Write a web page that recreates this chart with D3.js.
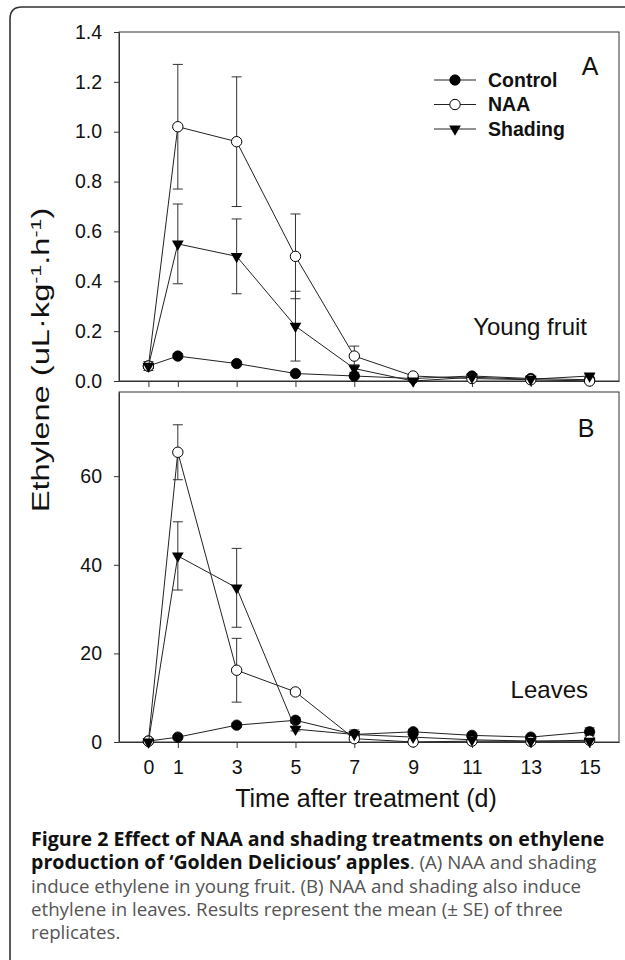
<!DOCTYPE html>
<html>
<head>
<meta charset="utf-8">
<script src="https://cdn.jsdelivr.net/npm/d3@7"></script>
<style>
  html, body { margin: 0; padding: 0; background: #fff; }
  svg { display: block; }
</style>
</head>
<body>
<svg id="fig" width="625" height="960"></svg>
<script>
// Sampling days after treatment
const days = [0, 1, 3, 5, 7, 9, 11, 13, 15];
const xTickValues = [0, 1, 3, 5, 7, 9, 11, 13, 15];

// Panel A: young fruit ethylene (uL·kg-1·h-1), mean and SE
const fruitControl   = [0.06, 0.10, 0.07, 0.03, 0.02, 0.01, 0.02, 0.01, 0.005];
const fruitControlSE = [0.018, 0.01, 0.008, 0.005, 0.005, 0, 0.005, 0.004, 0];
const fruitNAA       = [0.06, 1.02, 0.96, 0.50, 0.10, 0.02, 0.01, 0.005, 0.0];
const fruitNAASE     = [0.01, 0.25, 0.26, 0.17, 0.04, 0.005, 0.005, 0, 0.005];
const fruitShading   = [0.06, 0.55, 0.50, 0.22, 0.05, 0.0, 0.015, 0.007, 0.02];
const fruitShadingSE = [0.01, 0.16, 0.15, 0.14, 0.015, 0, 0.005, 0, 0.005];
const fruitTicks = [0, 0.2, 0.4, 0.6, 0.8, 1.0, 1.2, 1.4];

// Panel B: leaf ethylene, mean and SE
const leafControl   = [0.2, 1.1, 3.8, 4.9, 1.7, 2.3, 1.5, 1.1, 2.3];
const leafControlSE = [0.2, 0.3, 0.5, 0.6, 0.5, 0.5, 0.3, 0.3, 0.9];
const leafNAA       = [0.2, 65.4, 16.2, 11.3, 0.75, 0.0, 0.2, 0.15, 0.4];
const leafNAASE     = [0.1, 6.2, 7.2, 0.6, 0.3, 0, 0.1, 0.1, 0.2];
const leafShading   = [0.0, 42.0, 34.8, 2.9, 1.7, 1.1, 0.5, 0.2, 0.2];
const leafShadingSE = [0, 7.7, 8.9, 0.4, 1.0, 0.3, 0.2, 0.1, 0.2];
const leafTicks = [0, 20, 40, 60];

const seriesNames = ["Control", "NAA", "Shading"];

const captionLines = [
  [["b", "Figure 2 Effect of NAA and shading treatments on ethylene"]],
  [["b", "production of \u2018Golden Delicious\u2019 apples"], ["r", ". (A) NAA and shading"]],
  [["r", "induce ethylene in young fruit. (B) NAA and shading also induce"]],
  [["r", "ethylene in leaves. Results represent the mean (\u00b1 SE) of three"]],
  [["r", "replicates."]]
];

const svg = d3.select("#fig");
const AXIS_FONT = "'Liberation Sans', Arial, sans-serif";
const INK = "#222";

// Outer figure border with rounded top-left corner
svg.append("path")
  .attr("d", "M10,962 L10,19 Q10,7 22,7 L627,7")
  .attr("fill", "none")
  .attr("stroke", "#333")
  .attr("stroke-width", 1.6);

const x = d3.scaleLinear().domain([-1, 16]).range([119, 619]);
const yFruit = d3.scaleLinear().domain([0, 1.4]).range([381, 32]);
const yLeaf = d3.scaleLinear().domain([0, 79]).range([742, 392]);

function markerFor(sel, kind) {
  if (kind === "Control") {
    sel.append("circle").attr("r", 5.2).attr("fill", "#000").attr("stroke", "#000").attr("stroke-width", 0.8);
  } else if (kind === "NAA") {
    sel.append("circle").attr("r", 5.2).attr("fill", "#fff").attr("stroke", "#000").attr("stroke-width", 1);
  } else {
    sel.append("path")
      .attr("d", d3.symbol(d3.symbolTriangle, 60)())
      .attr("transform", "rotate(180)")
      .attr("fill", "#000");
  }
}

function drawPanel(y, ticks, fmt, series, showXLabels) {
  const g = svg.append("g");
  const [x0, x1] = x.range();
  const [yb, yt] = y.range();

  // plot frame
  g.append("rect")
    .attr("x", x0).attr("y", yt)
    .attr("width", x1 - x0).attr("height", yb - yt)
    .attr("fill", "none").attr("stroke", "#333").attr("stroke-width", 1);

  const yAxis = d3.axisLeft(y).tickValues(ticks).tickFormat(fmt)
    .tickSize(5).tickPadding(12).tickSizeOuter(0);
  const ga = g.append("g").attr("transform", `translate(${x0},0)`).call(yAxis);

  const xAxis = d3.axisBottom(x).tickValues(xTickValues)
    .tickFormat(showXLabels ? d3.format("d") : () => "")
    .tickSize(6).tickPadding(12).tickSizeOuter(0);
  const gx = g.append("g").attr("transform", `translate(0,${yb})`).call(xAxis);

  [ga, gx].forEach(a => {
    a.select(".domain").attr("stroke", "#333");
    a.selectAll(".tick line").attr("stroke", "#333");
    a.selectAll(".tick text")
      .attr("font-family", AXIS_FONT).attr("font-size", 19.5).attr("fill", "#111");
  });

  const line = d3.line().x((d, i) => x(days[i])).y(d => y(d));

  series.forEach(s => {
    // error bars with caps
    const eb = g.append("g").attr("stroke", "#333").attr("stroke-width", 1);
    s.values.forEach((v, i) => {
      const e = s.se[i];
      if (!e) return;
      const cx = x(days[i]);
      const hi = y(v + e), lo = y(v - e);
      eb.append("line").attr("x1", cx).attr("x2", cx).attr("y1", hi).attr("y2", lo);
      eb.append("line").attr("x1", cx - 5).attr("x2", cx + 5).attr("y1", hi).attr("y2", hi);
      eb.append("line").attr("x1", cx - 5).attr("x2", cx + 5).attr("y1", lo).attr("y2", lo);
    });
  });

  series.forEach(s => {
    g.append("path").datum(s.values)
      .attr("d", line).attr("fill", "none")
      .attr("stroke", INK).attr("stroke-width", 1);
    s.values.forEach((v, i) => {
      const m = g.append("g").attr("transform", `translate(${x(days[i])},${y(v)})`);
      markerFor(m, s.name);
    });
  });
  return g;
}

const fmt1 = d3.format(".1f");
const gA = drawPanel(yFruit, fruitTicks, fmt1, [
  { name: seriesNames[0], values: fruitControl, se: fruitControlSE },
  { name: seriesNames[1], values: fruitNAA, se: fruitNAASE },
  { name: seriesNames[2], values: fruitShading, se: fruitShadingSE }
], false);

const gB = drawPanel(yLeaf, leafTicks, d3.format("d"), [
  { name: seriesNames[0], values: leafControl, se: leafControlSE },
  { name: seriesNames[1], values: leafNAA, se: leafNAASE },
  { name: seriesNames[2], values: leafShading, se: leafShadingSE }
], true);

// Legend in panel A
const legend = gA.append("g");
seriesNames.forEach((name, i) => {
  const ly = 80 + i * 24.5;
  const row = legend.append("g").attr("transform", `translate(0,${ly})`);
  row.append("line").attr("x1", 434).attr("x2", 476).attr("y1", 0).attr("y2", 0)
    .attr("stroke", INK).attr("stroke-width", 1);
  markerFor(row.append("g").attr("transform", "translate(455,0)"), name);
  row.append("text").attr("x", 488).attr("y", 6.5)
    .attr("font-family", AXIS_FONT).attr("font-weight", "bold").attr("font-size", 19.5)
    .attr("fill", "#111").text(name);
});

// Panel letters and tissue labels
function label(g, txt, xx, yy, anchor, size) {
  g.append("text").attr("x", xx).attr("y", yy).attr("text-anchor", anchor)
    .attr("font-family", AXIS_FONT).attr("font-size", size).attr("fill", "#111").text(txt);
}
label(gA, "A", 590, 75, "middle", 25);
label(gA, "Young fruit", 587, 335, "end", 24);
label(gB, "B", 586, 437, "middle", 25);
label(gB, "Leaves", 588, 698, "end", 24);

// Axis titles
svg.append("text")
  .attr("x", 366).attr("y", 807).attr("text-anchor", "middle")
  .attr("font-family", AXIS_FONT).attr("font-size", 25).attr("fill", "#111")
  .text("Time after treatment (d)");

// y title, drawn somewhat elongated along its reading direction
const yTitle = svg.append("text")
  .attr("transform", "translate(49,360) rotate(-90) scale(1.42,1)")
  .attr("text-anchor", "middle")
  .attr("font-family", AXIS_FONT).attr("font-size", 23).attr("fill", "#111");
yTitle.append("tspan").text("Ethylene (uL\u00b7kg");
yTitle.append("tspan").attr("font-size", 15).attr("dy", -8.5).text("-1");
yTitle.append("tspan").attr("dy", 8.5).text(".h");
yTitle.append("tspan").attr("font-size", 15).attr("dy", -8.5).text("-1");
yTitle.append("tspan").attr("dy", 8.5).text(")");

// Figure caption
const cap = svg.append("g");
captionLines.forEach((parts, i) => {
  const t = cap.append("text").attr("x", 31).attr("y", 846 + i * 23.3)
    .attr("font-family", "'Open Sans', sans-serif");
  parts.forEach(([style, str]) => {
    const bold = style === "b";
    t.append("tspan")
      .attr("font-weight", bold ? "bold" : "normal")
      .attr("font-size", bold ? 19.6 : 18.7)
      .attr("fill", bold ? "#111" : "#555")
      .text(str);
  });
});
</script>
</body>
</html>
